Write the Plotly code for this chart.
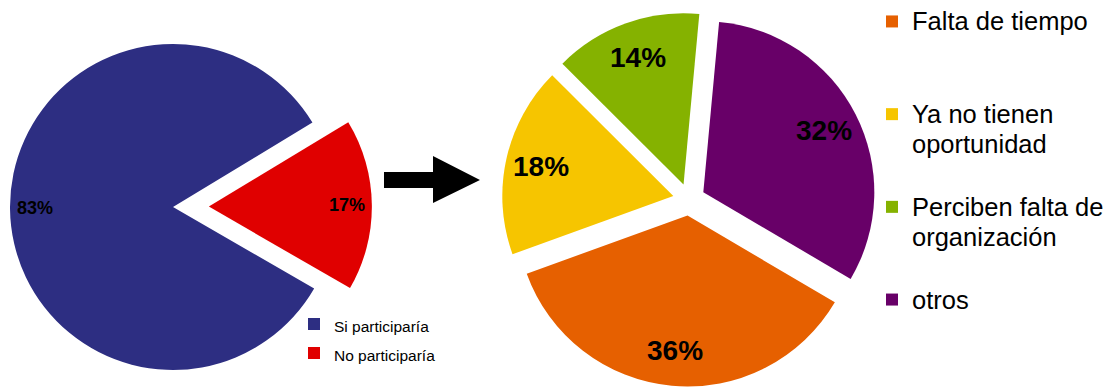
import math
import plotly.graph_objects as go

W, H = 1107, 390
FONT = "Liberation Sans, Arial, sans-serif"

# ---- data -------------------------------------------------------------
part_labels = ["Si participaría", "No participaría"]
part_values = [83, 17]

reason_labels = ["Falta de tiempo", "Ya no tienen<br>oportunidad",
                 "Perciben falta de<br>organización", "otros"]
reason_values = [36, 18, 14, 32]

# ---- styling ----------------------------------------------------------
part_colors = ["#2d2e82", "#e00000"]
part_pull = [0.0, 0.22]
part_rotation = 120

reason_colors = ["#e66000", "#f6c500", "#85b200", "#680068"]
reason_pull = [0.094, 0.094, 0.094, 0.094]
reason_rotation = 120.5

CLEAR = "rgba(0,0,0,0)"

# pie centres / radii in pixels (y measured from the top)
cxL, cyL, rL = 173, 207, 163
cxR, cyR, rR = 689, 199.5, 171


def mid_angles(values, rotation):
    """Clockwise mid angle (deg from 12 o'clock) of every slice."""
    total = sum(values)
    out, start = [], rotation
    for v in values:
        span = 360.0 * v / total
        out.append(start + span / 2)
        start += span
    return out


def polar(cx, cy, radius, ang):
    a = math.radians(ang)
    return cx + radius * math.sin(a), cy - radius * math.cos(a)


def domain(cx, cy, half):
    return dict(x=[(cx - half) / W, (cx + half) / W],
                y=[(H - cy - half) / H, (H - cy + half) / H])


def legend_entry(text, size, lines):
    parts = text.split("<br>")
    rows = [f'<span style="font-size:{size}px">{p}</span>' for p in parts]
    rows += ["&nbsp;"] * (lines - len(parts))
    return "<br>".join(rows)


fig = go.Figure()

# ---- left pie ---------------------------------------------------------
left_names = [legend_entry(t, 15.5, 1) for t in part_labels]
left_mid = mid_angles(part_values, part_rotation)
common = dict(values=part_values, labels=left_names, sort=False,
              direction="clockwise", rotation=part_rotation,
              textinfo="none", hoverinfo="label+percent",
              marker_line_width=0)

# legend swatches for the left pie (very small pie hidden under the blue slice)
fig.add_trace(go.Pie(**common, marker_colors=part_colors, legend="legend",
                     domain=domain(90, 200, 0.2), showlegend=True))

# each slice of the left pie drawn on its own, offset by its pull
for i, col in enumerate(part_colors):
    colors = [CLEAR] * len(part_colors)
    colors[i] = col
    ox, oy = polar(cxL, cyL, part_pull[i] * rL, left_mid[i])
    fig.add_trace(go.Pie(**common, marker_colors=colors,
                         domain=domain(ox, oy, rL), showlegend=False))

# ---- right pie --------------------------------------------------------
right_names = [legend_entry(t, 25.5, 3 if i < len(reason_labels) - 1 else 1)
               for i, t in enumerate(reason_labels)]
halfR = rR * (1 + max(reason_pull))
fig.add_trace(go.Pie(values=reason_values, labels=right_names, sort=False,
                     direction="clockwise", rotation=reason_rotation,
                     pull=reason_pull, marker_colors=reason_colors,
                     marker_line_width=0, textinfo="none",
                     hoverinfo="label+percent", legend="legend2",
                     domain=domain(cxR, cyR, halfR), showlegend=True))

# ---- percentage labels ------------------------------------------------
annotations = []


def add_labels(values, mids, pulls, cx, cy, r, frac, size):
    total = sum(values)
    for v, ang, p in zip(values, mids, pulls):
        x, y = polar(cx, cy, (p + frac) * r, ang)
        annotations.append(dict(
            x=x / W, y=1 - y / H, xref="paper", yref="paper",
            text=f"<b>{round(100 * v / total)}%</b>", showarrow=False,
            xanchor="center", yanchor="middle",
            font=dict(family=FONT, size=size, color="black")))


add_labels(part_values, left_mid, part_pull, cxL, cyL, rL, 0.845, 18)
add_labels(reason_values, mid_angles(reason_values, reason_rotation),
           reason_pull, cxR, cyR, rR, 0.79, 28)

# ---- arrow between the pies -------------------------------------------
arrow_pts = [(384, 172), (433, 172), (433, 156), (480, 180),
             (433, 203), (433, 188), (384, 188)]
path = "M " + " L ".join(f"{x / W:.5f},{1 - y / H:.5f}" for x, y in arrow_pts) + " Z"

fig.update_layout(
    width=W, height=H,
    margin=dict(l=0, r=0, t=0, b=0, pad=0, autoexpand=False),
    paper_bgcolor="white", plot_bgcolor="white",
    showlegend=True,
    annotations=annotations,
    shapes=[dict(type="path", path=path, xref="paper", yref="paper",
                 fillcolor="black", line=dict(width=0))],
    legend=dict(x=294 / W, y=1 - 304.5 / H, xanchor="left", yanchor="top",
                font=dict(family=FONT, size=20, color="black"),
                bgcolor=CLEAR, borderwidth=0, valign="top",
                tracegroupgap=0),
    legend2=dict(x=872 / W, y=1.0, xanchor="left", yanchor="top",
                 font=dict(family=FONT, size=23, color="black"),
                 bgcolor=CLEAR, borderwidth=0, valign="top",
                 tracegroupgap=0),
)

fig.write_html("out.html")
